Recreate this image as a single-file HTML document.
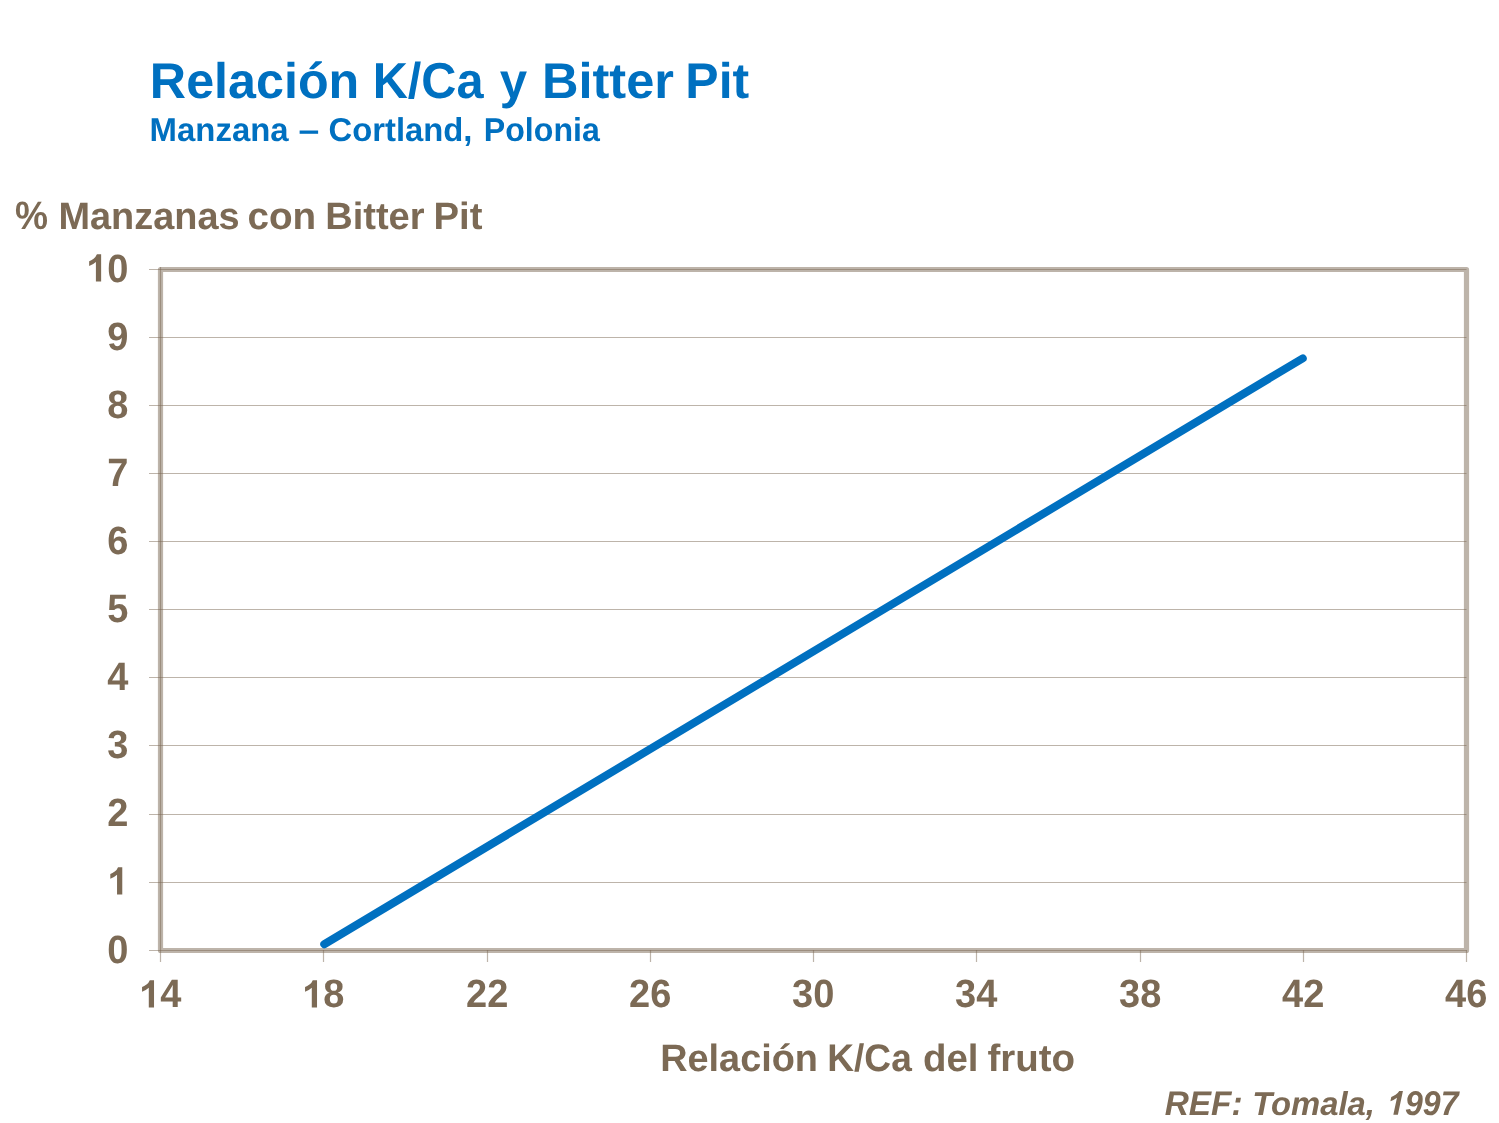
<!DOCTYPE html>
<html lang="es"><head><meta charset="utf-8"><title>Relación K/Ca y Bitter Pit</title>
<style>
html,body{margin:0;padding:0;background:#fff;}
body{width:1499px;height:1123px;overflow:hidden;position:relative;font-family:"Liberation Sans",sans-serif;}
svg{display:block;position:absolute;left:0;top:0;will-change:transform;}
text{font-family:"Liberation Sans",sans-serif;font-weight:bold;text-rendering:geometricPrecision;}
.g line{stroke:#7C6A55;stroke-opacity:.5;stroke-width:1.2;}
.lb{fill:#7C6A55;}
</style></head><body>
<svg width="1499" height="1123" viewBox="0 0 1499 1123">

<rect x="160.5" y="269.5" width="1306.0" height="681" fill="none" stroke="#7C6A55" stroke-opacity=".5" stroke-width="5.2" stroke-linejoin="round"/>
<g class="g">
<line x1="149" y1="950.5" x2="1466.5" y2="950.5"/>
<line x1="149" y1="882.5" x2="1466.5" y2="882.5"/>
<line x1="149" y1="814.5" x2="1466.5" y2="814.5"/>
<line x1="149" y1="745.5" x2="1466.5" y2="745.5"/>
<line x1="149" y1="677.5" x2="1466.5" y2="677.5"/>
<line x1="149" y1="609.5" x2="1466.5" y2="609.5"/>
<line x1="149" y1="541.5" x2="1466.5" y2="541.5"/>
<line x1="149" y1="473.5" x2="1466.5" y2="473.5"/>
<line x1="149" y1="405.5" x2="1466.5" y2="405.5"/>
<line x1="149" y1="337.5" x2="1466.5" y2="337.5"/>
<line x1="149" y1="269.5" x2="1466.5" y2="269.5"/>
<line x1="160.5" y1="267" x2="160.5" y2="962"/>
<line x1="323.5" y1="950" x2="323.5" y2="962"/>
<line x1="487.5" y1="950" x2="487.5" y2="962"/>
<line x1="650.5" y1="950" x2="650.5" y2="962"/>
<line x1="813.5" y1="950" x2="813.5" y2="962"/>
<line x1="976.5" y1="950" x2="976.5" y2="962"/>
<line x1="1140.5" y1="950" x2="1140.5" y2="962"/>
<line x1="1303.5" y1="950" x2="1303.5" y2="962"/>
<line x1="1466.5" y1="950" x2="1466.5" y2="962"/>
</g>
<line x1="324.25" y1="944.20" x2="1302.75" y2="358.35" stroke="#0070C0" stroke-width="8" stroke-linecap="round"/>
<g class="lb">
<text transform="translate(107.32,962.60) scale(1,1.0405)" font-size="38.0">0</text>
<path d="M806 0L524 0L524 1059Q370 915 161 846L161 1101Q271 1137 400 1237Q529 1338 577 1472L806 1472Z" transform="translate(107.32,894.50) scale(0.018555,-0.018555)"/>
<text transform="translate(107.32,826.40) scale(1,1.0405)" font-size="38.0">2</text>
<text transform="translate(107.32,758.30) scale(1,1.0405)" font-size="38.0">3</text>
<text transform="translate(107.32,690.20) scale(1,1.0405)" font-size="38.0">4</text>
<text transform="translate(107.32,622.10) scale(1,1.0405)" font-size="38.0">5</text>
<text transform="translate(107.32,554.00) scale(1,1.0405)" font-size="38.0">6</text>
<text transform="translate(107.32,485.90) scale(1,1.0405)" font-size="38.0">7</text>
<text transform="translate(107.32,417.80) scale(1,1.0405)" font-size="38.0">8</text>
<text transform="translate(107.32,349.70) scale(1,1.0405)" font-size="38.0">9</text>
<path d="M806 0L524 0L524 1059Q370 915 161 846L161 1101Q271 1137 400 1237Q529 1338 577 1472L806 1472Z" transform="translate(86.18,281.60) scale(0.018555,-0.018555)"/><text transform="translate(107.32,281.60) scale(1,1.0405)" font-size="38.0">0</text>
<path d="M806 0L524 0L524 1059Q370 915 161 846L161 1101Q271 1137 400 1237Q529 1338 577 1472L806 1472Z" transform="translate(139.07,1007.45) scale(0.018555,-0.018555)"/><text transform="translate(160.20,1007.45) scale(1,1.0405)" font-size="38.0">4</text>
<path d="M806 0L524 0L524 1059Q370 915 161 846L161 1101Q271 1137 400 1237Q529 1338 577 1472L806 1472Z" transform="translate(302.07,1007.45) scale(0.018555,-0.018555)"/><text transform="translate(323.20,1007.45) scale(1,1.0405)" font-size="38.0">8</text>
<text transform="translate(466.07,1007.45) scale(1,1.0405)" font-size="38.0">22</text>
<text transform="translate(629.07,1007.45) scale(1,1.0405)" font-size="38.0">26</text>
<text transform="translate(792.07,1007.45) scale(1,1.0405)" font-size="38.0">30</text>
<text transform="translate(955.07,1007.45) scale(1,1.0405)" font-size="38.0">34</text>
<text transform="translate(1119.07,1007.45) scale(1,1.0405)" font-size="38.0">38</text>
<text transform="translate(1282.07,1007.45) scale(1,1.0405)" font-size="38.0">42</text>
<text transform="translate(1445.07,1007.45) scale(1,1.0405)" font-size="38.0">46</text>
</g>
<text transform="translate(149.85,97.6) scale(1.0051,1.0)" font-size="50" fill="#0070C0">Relación</text>
<text transform="translate(372.66,97.6) scale(0.9738,1.01)" font-size="50" fill="#0070C0">K/Ca</text>
<text transform="translate(499.68,97.6) scale(0.9848,1.0)" font-size="50" fill="#0070C0">y</text>
<text transform="translate(541.93,97.6) scale(1.0112,1.0)" font-size="50" fill="#0070C0">Bitter</text>
<text transform="translate(685.37,97.6) scale(0.9987,1.0)" font-size="50" fill="#0070C0">Pit</text>
<text transform="translate(149.62,140.7) scale(0.9972,1.0)" font-size="33" fill="#0070C0">Manzana</text>
<text transform="translate(298.47,140.7) scale(1.1313,1.0)" font-size="33" fill="#0070C0">–</text>
<text transform="translate(328.55,140.7) scale(0.9938,1.0)" font-size="33" fill="#0070C0">Cortland,</text>
<text transform="translate(483.87,140.7) scale(0.9724,1.0)" font-size="33" fill="#0070C0">Polonia</text>
<text transform="translate(15.02,228.6) scale(0.9767,1.04)" font-size="38" fill="#7C6A55">%</text>
<text transform="translate(58.48,228.6) scale(0.9968,1.0)" font-size="38" fill="#7C6A55">Manzanas</text>
<text transform="translate(247.47,228.6) scale(1.017,1.0)" font-size="38" fill="#7C6A55">con</text>
<text transform="translate(325.17,228.6) scale(1.0019,1.0)" font-size="38" fill="#7C6A55">Bitter</text>
<text transform="translate(433.56,228.6) scale(1.0071,1.0)" font-size="38" fill="#7C6A55">Pit</text>
<text transform="translate(660.19,1071.0) scale(0.9961,1.0)" font-size="38" fill="#7C6A55">Relación</text>
<text transform="translate(827.23,1071.0) scale(0.9767,1.01)" font-size="38" fill="#7C6A55">K/Ca</text>
<text transform="translate(923.01,1071.0) scale(1.0107,1.0)" font-size="38" fill="#7C6A55">del</text>
<text transform="translate(987.45,1071.0) scale(1.0115,1.0)" font-size="38" fill="#7C6A55">fruto</text>
<text transform="translate(1164.63,1114.8) scale(1.0116,1.04)" font-size="33" fill="#7C6A55" font-style="italic">REF:</text>
<text transform="translate(1252.2,1114.8) scale(0.994,1.0)" font-size="33" fill="#7C6A55" font-style="italic">Tomala,</text>
<text transform="translate(1405.01,1114.8) scale(0.9721,1.04)" font-size="33" fill="#7C6A55" font-style="italic">997</text>
<path d="M806 0L524 0L524 1059Q370 915 161 846L161 1101Q271 1137 400 1237Q529 1338 577 1472L806 1472Z" fill="#7C6A55" transform="translate(1384.9,1114.8) skewX(-12) scale(0.016113,-0.016113)"/>
</svg></body></html>
